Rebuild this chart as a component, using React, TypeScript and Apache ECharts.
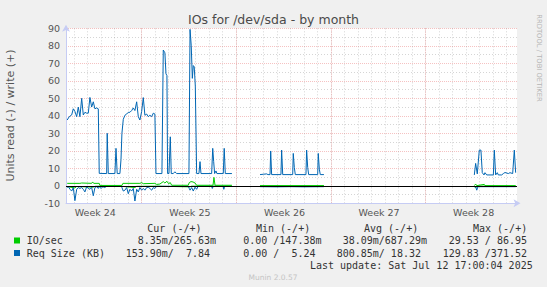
import React, { useEffect, useRef } from 'react';
import * as echarts from 'echarts';

// x unit: days, 0 = start of week 25 (first red week line)
const X_MIN = -5.6;
const X_MAX = 27.78;
const LABEL_SHIFT = 3.43;

const weekLabels = ['Week 24', 'Week 25', 'Week 26', 'Week 27', 'Week 28'];

// Req Size (KB), write (+)
const reqWriteX = [-5.51,-5.36,-5.18,-5.06,-4.94,-4.81,-4.69,-4.57,-4.44,-4.32,-4.20,-4.07,-3.95,-3.83,-3.70,-3.58,-3.46,-3.33,-3.21,-3.14,-3.09,-2.59,-2.55,-2.47,-1.98,-1.90,-1.81,-1.61,-1.53,-1.46,-1.36,-1.24,-1.11,-0.99,-0.87,-0.74,-0.62,-0.50,-0.37,-0.25,-0.13,0,0.12,0.24,0.37,0.49,0.61,0.74,0.86,0.98,1.06,1.50,1.60,1.72,1.80,1.87,1.92,2.02,2.12,2.19,2.34,2.46,2.59,3.50,3.58,3.67,3.75,3.82,3.89,3.97,4.07,4.24,4.32,4.39,5.18,5.26,5.33,5.40,5.50,5.57,6.04,6.11,6.19,6.68,
  7.7,
  8.76,9.00,9.25,9.35,9.50,9.55,9.62,10.31,10.36,10.44,11.18,11.22,11.30,11.37,12.16,12.21,12.29,12.36,13.03,13.07,13.15,13.22,13.49,
  19.0,
  24.62,24.72,24.84,24.99,25.11,25.21,25.34,25.41,25.54,26.03,26.10,26.20,26.32,26.40,26.65,26.77,26.89,27.14,27.26,27.46,27.58,27.68];
const reqWriteY = [37.6,39.5,40.5,44,42.5,39.5,45,39.5,50,40.5,42,41.5,41.5,50.5,45,48,44,44.5,44,7.1,7,7,30,7,7,21.4,7,7,15,30,38,40.3,41,42,42,43,44.5,43,48,39.5,37.6,42.5,50.4,40.3,41,39.5,40.3,39.5,41.5,41,7,7,77.6,76,64,63,7,7,28,7,7,8,7,7,89.4,80,61.4,68.7,68,57,7,7,13.8,7,7,21.4,13.8,7,8.5,7,7,21.4,7,7,
  null,
  6.4,6.6,6.8,6.4,6.4,19.9,6.4,6.4,20.4,6.4,6.4,18.5,10.4,6.4,6.4,20.4,10.4,6.4,6.4,18.5,9.5,6.4,6.4,
  null,
  6.2,12.8,6.8,20.4,20.4,7.5,6.2,7.5,6.2,6.2,20.4,6.2,7.5,6.2,6.2,7,7.6,7,7.5,7,20.4,7.5];

// Req Size (KB), read (-), stored as magnitudes
const reqReadX = [-5.51,-5.43,-5.30,-5.18,-5.06,-4.94,-4.81,-4.69,-4.57,-4.44,-4.32,-4.20,-4.07,-3.95,-3.83,-3.70,-3.58,-3.46,-3.33,-3.21,-3.14,-2.99,-2.87,-2.74,-2.59,-1.53,-1.46,-1.36,-1.24,-1.11,-0.99,-0.87,-0.74,-0.62,-0.50,-0.37,-0.25,-0.13,0,0.12,0.24,0.37,0.49,0.61,0.74,0.86,0.98,1.11,3.45,3.52,3.58,3.70,3.82,3.95,4.07,4.17,5.18,5.23,5.30,6.04,6.08,6.14,6.68,
  7.7,
  8.76,10.0,11.0,12.0,13.49,
  19.0,
  24.62,24.72,24.80,24.89,27.68];
const reqReadY = [1,0.5,2,3,1,8.5,2,1,1.5,1,2,3.5,0.5,1.5,2,1,5.7,1,0.5,1.5,0.5,1.5,0.5,1,0.3,0.3,1,3,2.5,1,4.5,2,3,1.5,8.7,2,3.5,1,2.5,1.5,2.5,1,0.8,1.5,2.5,1,1.5,0.3,0.3,1.5,2.5,1,3,0.8,2,0.3,0.3,1.5,0.3,0.3,2,0.3,0.3,
  null,
  0.5,0.6,0.5,0.6,0.5,
  null,
  0.5,0.5,2.5,0.5,0.5];

// IO/sec, write (+)
const ioWriteX = [-5.51,-4.57,-4.44,-3.70,-3.63,-3.55,-3.14,-3.09,-1.46,-1.39,-0.13,0,0.12,0.98,1.11,1.35,1.60,1.72,1.87,1.99,2.12,2.22,3.45,3.52,3.65,3.80,3.95,4.07,5.28,5.35,5.43,6.68,
  7.7,
  8.76,13.49,
  19.0,
  24.62,24.72,24.80,25.36,25.41,27.68];
const ioWriteY = [1.4,1.4,1.6,1.4,2.2,1.4,1.4,0.2,0.2,1.4,1.4,1.8,1.2,1.4,0.8,1,2.4,1.6,2.6,1.2,1.8,0.3,0.3,1.8,2.4,2.2,1.6,0.3,0.3,4.8,0.3,0.3,
  null,
  0.1,0.1,
  null,
  0.1,1,0.1,0.8,0.1,0.1];

// IO/sec, read (-), stored as magnitudes
const ioReadX = [-5.51,-4.94,-4.81,-3.58,-3.46,-3.09,-1.46,-0.50,-0.37,1.11,3.58,3.70,6.68,
  7.7,
  8.76,13.49,
  19.0,
  24.62,24.72,24.80,27.68];
const ioReadY = [0.5,1.2,0.4,0.8,0.3,0.2,0.3,1,0.3,0.2,0.6,0.2,0.2,
  null,
  0.1,0.1,
  null,
  0.2,1.2,0.2,0.2];

// Legend table
const legendNames = ['IO/sec', 'Req Size (KB)'];
const legendColors = ['#00cc00', '#0066b3'];
const legendHeaders = ['Cur (-/+)', 'Min (-/+)', 'Avg (-/+)', 'Max (-/+)'];
const ioStats = ['8.35m/265.63m', '0.00 /147.38m', '38.09m/687.29m', '29.53 / 86.95'];
const reqStats = ['153.90m/  7.84 ', '0.00 /  5.24 ', '800.85m/ 18.32 ', '129.83 /371.52'];
const lastUpdate = 'Last update: Sat Jul 12 17:00:04 2025';

const AXIS_COLOR = '#c6ccf4';
const MAJOR_GRID = 'rgba(230,110,110,0.42)';
const MINOR_GRID = 'rgba(150,150,150,0.40)';
const SANS = 'DejaVu Sans';
const MONO = 'DejaVu Sans Mono';

const nb = (s: string) => s.replace(/ /g, '\u00a0');

function pairs(xs: number[], ys: (number | null)[], sign: number) {
  return xs.map((x, i) => [x, ys[i] == null ? '-' : sign * (ys[i] as number)]);
}

function txt(x: number, y: number, text: string, size: number, color: string, family: string, align = 'left', rotation = 0) {
  return {
    type: 'text', x, y, rotation, silent: true, z: 100,
    style: {
      text, fill: color, fontSize: size, fontFamily: family,
      textAlign: align, textVerticalAlign: 'middle', align, verticalAlign: 'middle',
    },
  };
}

function lineSeries(name: string, data: any[], color: string, z: number, extra: any = {}) {
  return {
    name, type: 'line', data, xAxisIndex: 0, yAxisIndex: 0,
    showSymbol: false, symbol: 'none', connectNulls: false, silent: true, z,
    lineStyle: { color, width: 1 }, itemStyle: { color },
    emphasis: { disabled: true },
    ...extra,
  };
}

export default function App() {
  const ref = useRef<HTMLDivElement>(null);
  useEffect(() => {
    if (!ref.current) return;
    const chart = echarts.init(ref.current, undefined, { renderer: 'svg' });

    const colRight = [216, 321.5, 427, 527];
    const headLeft = [147.3, 256, 364, 473];
    const rowY = [240.5, 253];

    const graphic: any[] = [
      txt(273.5, 19.5, 'IOs for /dev/sda - by month', 12.5, '#4a4a4a', SANS, 'center'),
      txt(10.5, 115.5, 'Units read (-) / write (+)', 11, '#555', SANS, 'center', Math.PI / 2),
      txt(538.5, 58, 'RRDTOOL / TOBI OETIKER', 6.8, '#b4b4b4', SANS, 'center', -Math.PI / 2),
      txt(273, 277.5, 'Munin 2.0.57', 7.5, '#c4c4c4', SANS, 'center'),
      txt(532.7, 265.5, nb(lastUpdate), 10, '#333', MONO, 'right'),
    ];
    legendHeaders.forEach((h, i) => graphic.push(txt(headLeft[i], 228.5, nb(h), 10, '#333', MONO, 'left')));
    [ioStats, reqStats].forEach((row, r) => {
      graphic.push({
        type: 'rect', silent: true, z: 100,
        shape: { x: 14, y: rowY[r] - 3, width: 6, height: 6 },
        style: { fill: legendColors[r] },
      });
      graphic.push(txt(26.7, rowY[r], nb(legendNames[r]), 10, '#333', MONO, 'left'));
      row.forEach((v, c) => graphic.push(txt(colRight[c], rowY[r], nb(v), 10, '#333', MONO, 'right')));
    });

    const hiddenAxisParts = {
      axisLine: { show: false, onZero: false },
      axisTick: { show: false },
      axisLabel: { show: false },
    };

    const option: any = {
      animation: false,
      backgroundColor: '#f0f0f0',
      grid: {
        left: 66, top: 28.3, width: 451, height: 175,
        show: true, backgroundColor: '#ffffff', borderWidth: 0,
        containLabel: false, outerBoundsMode: 'none',
      },
      xAxis: [
        {
          type: 'value', position: 'bottom', min: X_MIN, max: X_MAX,
          axisLine: {
            show: true, onZero: false, symbol: ['none', 'arrow'], symbolSize: [6, 7], symbolOffset: [0, 3.5],
            lineStyle: { color: AXIS_COLOR, width: 1 },
          },
          axisTick: { show: false }, axisLabel: { show: false }, splitLine: { show: false },
        },
        {
          type: 'value', position: 'bottom', min: X_MIN, max: X_MAX, minInterval: 1, maxInterval: 1,
          ...hiddenAxisParts,
          splitLine: { show: true, showMinLine: false, showMaxLine: false, lineStyle: { color: MINOR_GRID, type: [1, 2], width: 1 } },
        },
        {
          type: 'value', position: 'bottom', min: X_MIN, max: X_MAX, minInterval: 7, maxInterval: 7,
          ...hiddenAxisParts,
          splitLine: { show: true, showMinLine: false, showMaxLine: false, lineStyle: { color: MAJOR_GRID, type: [1, 1], width: 1 } },
        },
        {
          type: 'value', position: 'bottom', min: X_MIN + LABEL_SHIFT, max: X_MAX + LABEL_SHIFT,
          minInterval: 7, maxInterval: 7,
          axisLine: { show: false, onZero: false }, axisTick: { show: false }, splitLine: { show: false },
          axisLabel: {
            show: true, margin: 4, color: '#555', fontFamily: SANS, fontSize: 9.5,
            formatter: (v: number) => {
              const k = Math.round(v / 7);
              return Math.abs(v - 7 * k) < 1e-6 && weekLabels[k] ? weekLabels[k] : '';
            },
          },
        },
      ],
      yAxis: {
        type: 'value', min: -10, max: 90, interval: 10,
        axisLine: {
          show: true, onZero: false, symbol: ['none', 'arrow'], symbolSize: [6, 7], symbolOffset: [0, 3.5],
          lineStyle: { color: AXIS_COLOR, width: 1 },
        },
        axisTick: { show: false },
        axisLabel: { margin: 6, color: '#555', fontFamily: SANS, fontSize: 9.5 },
        splitLine: { show: true, showMinLine: false, lineStyle: { color: MAJOR_GRID, type: [1, 1], width: 1 } },
        minorTick: { show: false, splitNumber: 2 },
        minorSplitLine: { show: true, lineStyle: { color: MINOR_GRID, type: [1, 2], width: 1 } },
      },
      series: [
        lineSeries('IO/sec read', pairs(ioReadX, ioReadY, -1), legendColors[0], 2),
        lineSeries('Req Size read', pairs(reqReadX, reqReadY, -1), legendColors[1], 3),
        lineSeries('IO/sec write', pairs(ioWriteX, ioWriteY, 1), legendColors[0], 4),
        lineSeries('Req Size write', pairs(reqWriteX, reqWriteY, 1), legendColors[1], 5, {
          markLine: {
            silent: true, symbol: ['none', 'none'], z: 10,
            label: { show: false },
            lineStyle: { color: '#000000', width: 1, type: 'solid' },
            emphasis: { disabled: true },
            data: [{ yAxis: 0 }],
          },
        }),
      ],
      graphic,
    };

    chart.setOption(option);
    return () => chart.dispose();
  }, []);

  return <div ref={ref} style={{ position: 'fixed', left: 0, top: 0, width: 547, height: 287 }} />;
}
